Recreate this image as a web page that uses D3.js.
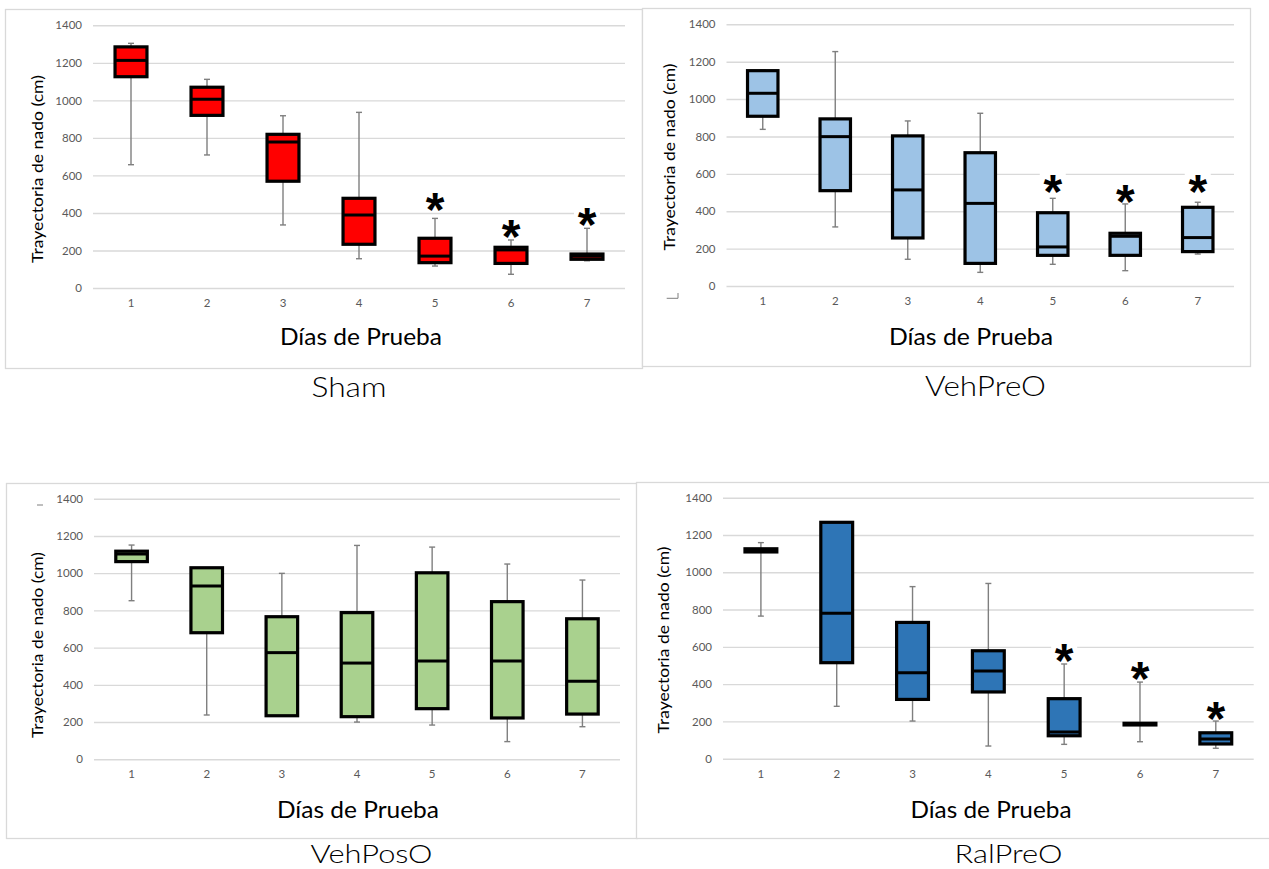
<!DOCTYPE html>
<html>
<head>
<meta charset="utf-8">
<script src="https://cdn.jsdelivr.net/npm/d3@7"></script>
<style>
  html, body { margin: 0; padding: 0; background: #fff; }
  svg { display: block; }
</style>
</head>
<body>
<svg id="chart" width="1269" height="869"></svg>
<script>
// ---------- data ----------
const days = ["1", "2", "3", "4", "5", "6", "7"];
const yTicks = [0, 200, 400, 600, 800, 1000, 1200, 1400];
const groupNames = ["Sham", "VehPreO", "VehPosO", "RalPreO"];
const xAxisTitle = "Días de Prueba";
const yAxisTitle = "Trayectoria de nado (cm)";

// each box: [min, q1, median, q3, max]
const shamBoxes = [
  [657, 1126, 1213, 1285, 1304],
  [709, 920, 1006, 1070, 1112],
  [336, 569, 778, 819, 918],
  [156, 233, 389, 478, 936],
  [117, 135, 170, 265, 371],
  [73, 131, 203, 217, 256],
  [145, 153, 170, 181, 318]
];
const vehPreOBoxes = [
  [838, 908, 1031, 1152, 1156],
  [316, 510, 799, 894, 1254],
  [143, 257, 514, 803, 883],
  [73, 121, 442, 713, 924],
  [116, 164, 209, 392, 469],
  [82, 164, 266, 282, 439],
  [171, 184, 259, 421, 448]
];
const vehPosOBoxes = [
  [852, 1062, 1103, 1118, 1151],
  [238, 680, 931, 1029, 1029],
  [234, 234, 573, 766, 999],
  [200, 229, 517, 788, 1149],
  [184, 272, 528, 1002, 1140],
  [95, 222, 528, 847, 1049],
  [175, 243, 419, 755, 963]
];
const ralPreOBoxes = [
  [765, 1109, 1119, 1126, 1159],
  [281, 515, 780, 1268, 1268],
  [202, 318, 461, 731, 923],
  [68, 358, 470, 579, 940],
  [77, 123, 143, 322, 508],
  [91, 181, 186, 190, 411],
  [56, 79, 106, 139, 202]
];

// significance stars: day and height (value units)
const shamStarDays = ["5", "6", "7"];
const shamStarValues = [473, 330, 394];
const vehPreOStarDays = ["5", "6", "7"];
const vehPreOStarValues = [563, 510, 563];
const vehPosOStarDays = [];
const vehPosOStarValues = [];
const ralPreOStarDays = ["5", "6", "7"];
const ralPreOStarValues = [583, 485, 274];

// ---------- layout / style ----------
const panels = [
  { name: groupNames[0], boxes: shamBoxes, starDays: shamStarDays, starVals: shamStarValues, color: "#FF0000",
    frame: [5, 9, 642, 368], x0: 93, x1: 625, y0: 288, yTop: 25.3,
    xl: [361, 345, 162], yl: [37, 169, 188], tl: [349, 397, 75, 28] },
  { name: groupNames[1], boxes: vehPreOBoxes, starDays: vehPreOStarDays, starVals: vehPreOStarValues, color: "#9DC3E6",
    frame: [642, 8, 1250, 366], x0: 726.5, x1: 1234, y0: 286, yTop: 24.3,
    xl: [971, 345, 164], yl: [668.5, 157, 187], tl: [985.5, 396, 121, 28] },
  { name: groupNames[2], boxes: vehPosOBoxes, starDays: vehPosOStarDays, starVals: vehPosOStarValues, color: "#A9D18E",
    frame: [6, 483, 637, 838], x0: 94, x1: 620, y0: 759.3, yTop: 498.7,
    xl: [358, 818, 162], yl: [37, 645, 186], tl: [371.5, 863, 122, 25] },
  { name: groupNames[3], boxes: ralPreOBoxes, starDays: ralPreOStarDays, starVals: ralPreOStarValues, color: "#2E75B6",
    frame: [636, 482, 1275, 838], x0: 723, x1: 1253.7, y0: 758.7, yTop: 497.7,
    xl: [991, 818, 161], yl: [662.5, 640, 187], tl: [1008.5, 863, 108, 25] }
];

const svg = d3.select("#chart");
const labelFont = "Lato, 'Open Sans', 'DejaVu Sans', sans-serif";

panels.forEach(p => {
  const g = svg.append("g");
  const [fx0, fy0, fx1, fy1] = p.frame;
  g.append("rect")
    .attr("x", fx0 + 0.5).attr("y", fy0 + 0.5)
    .attr("width", fx1 - fx0).attr("height", fy1 - fy0)
    .attr("fill", "#fff").attr("stroke", "#d9d9d9").attr("stroke-width", 1.3);

  const x = d3.scaleBand().domain(days).range([p.x0, p.x1]);
  const y = d3.scaleLinear().domain([0, 1400]).range([p.y0, p.yTop]);
  const plotW = p.x1 - p.x0;

  // y axis with gridlines
  const ya = g.append("g").attr("transform", `translate(${p.x0},0)`)
    .call(d3.axisLeft(y).tickValues(yTicks).tickSize(-plotW).tickPadding(11).tickFormat(d3.format("d")));
  ya.select(".domain").remove();
  ya.selectAll(".tick line").attr("stroke", "#d9d9d9").attr("stroke-width", 1.4);
  ya.selectAll(".tick text").attr("fill", "#595959").style("font-family", labelFont).style("font-size", "11.5px");

  // x axis
  const xa = g.append("g").attr("transform", `translate(0,${p.y0})`)
    .call(d3.axisBottom(x).tickSize(0).tickPadding(11));
  xa.select(".domain").remove();
  xa.selectAll(".tick text").attr("fill", "#595959").style("font-family", labelFont).style("font-size", "11.5px");

  const bw = x.bandwidth() * 0.42;
  const cap = 6;
  const bx = g.append("g").selectAll("g").data(p.boxes).join("g")
    .attr("transform", (d, i) => `translate(${x(days[i]) + x.bandwidth() / 2},0)`);

  // whiskers
  bx.append("line").attr("x1", 0).attr("x2", 0)
    .attr("y1", d => y(d[0])).attr("y2", d => y(d[4]))
    .attr("stroke", "#7f7f7f").attr("stroke-width", 1.4);
  [0, 1, 3, 4].forEach(k => {
    bx.append("line").attr("x1", -cap / 2).attr("x2", cap / 2)
      .attr("y1", d => y(d[k])).attr("y2", d => y(d[k]))
      .attr("stroke", "#7f7f7f").attr("stroke-width", 1.4);
  });
  // box
  bx.append("rect")
    .attr("x", -bw / 2).attr("width", bw)
    .attr("y", d => y(d[3])).attr("height", d => Math.max(0.5, y(d[1]) - y(d[3])))
    .attr("fill", p.color).attr("stroke", "#000").attr("stroke-width", 3.2);
  // median
  bx.append("line").attr("x1", -bw / 2).attr("x2", bw / 2)
    .attr("y1", d => y(d[2])).attr("y2", d => y(d[2]))
    .attr("stroke", "#000").attr("stroke-width", 3);

  // stars
  const sg = g.append("g").selectAll("g").data(p.starDays).join("g")
    .attr("transform", (d, i) => `translate(${x(d) + x.bandwidth() / 2},${y(p.starVals[i])})`);
  sg.append("rect").attr("x", -13).attr("y", -11).attr("width", 26).attr("height", 22).attr("fill", "#fff");
  sg.append("text").text("*")
    .attr("text-anchor", "middle").attr("y", 27)
    .style("font-family", "'Liberation Sans', Arial, sans-serif")
    .style("font-weight", "bold").style("font-size", "48px").attr("fill", "#000");

  // axis titles
  g.append("text").text(xAxisTitle)
    .attr("x", p.xl[0]).attr("y", p.xl[1]).attr("text-anchor", "middle")
    .attr("textLength", p.xl[2]).attr("lengthAdjust", "spacingAndGlyphs")
    .style("font-family", labelFont).style("font-size", "24px").attr("fill", "#000");
  g.append("text").text(yAxisTitle)
    .attr("transform", `translate(${p.yl[0] + 6},${p.yl[1]}) rotate(-90)`)
    .attr("text-anchor", "middle")
    .attr("textLength", p.yl[2]).attr("lengthAdjust", "spacingAndGlyphs")
    .style("font-family", labelFont).style("font-size", "16px").attr("fill", "#000");

  // panel title
  svg.append("text").text(p.name)
    .attr("x", p.tl[0]).attr("y", p.tl[1]).attr("text-anchor", "middle")
    .attr("textLength", p.tl[2]).attr("lengthAdjust", "spacingAndGlyphs")
    .style("font-family", labelFont).style("font-weight", 300).style("font-size", p.tl[3] + "px").attr("fill", "#000");
});

// small stray marks visible in the original figure
svg.append("path").attr("d", "M666.7,298.3H678V293").attr("fill", "none").attr("stroke", "#7f7f7f").attr("stroke-width", 1);
svg.append("line").attr("x1", 37).attr("x2", 43).attr("y1", 505).attr("y2", 505).attr("stroke", "#7f7f7f").attr("stroke-width", 1);
</script>
</body>
</html>
